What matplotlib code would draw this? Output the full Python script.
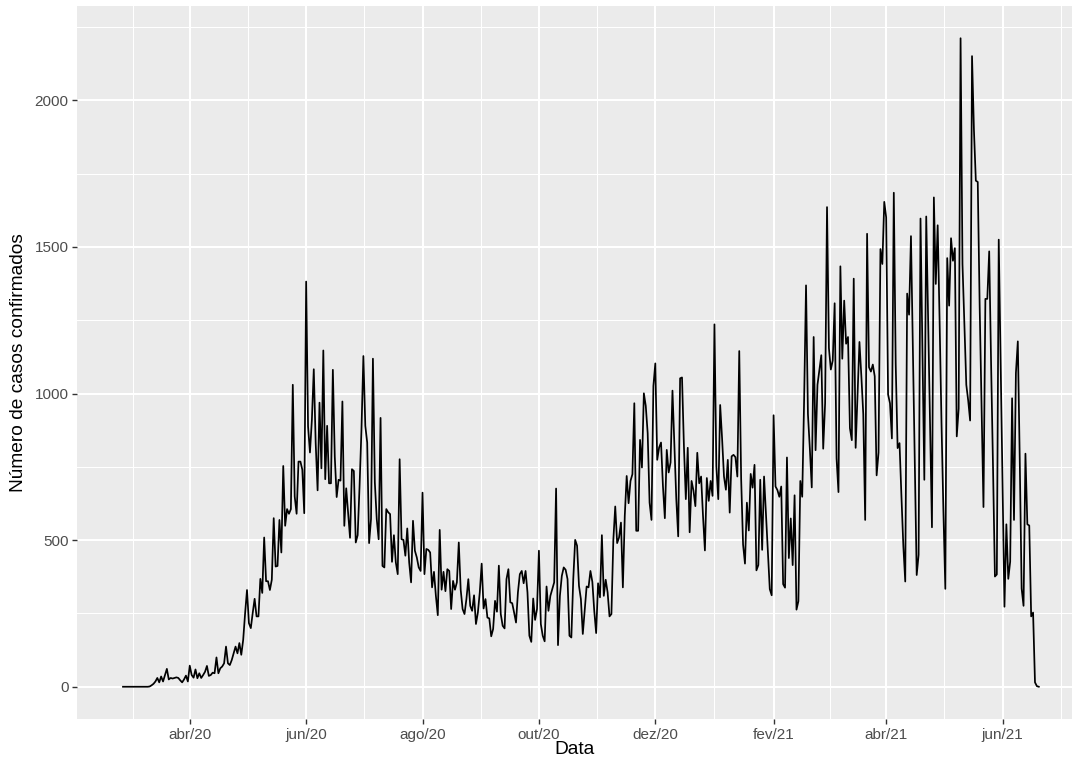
import matplotlib
matplotlib.use('Agg')

import matplotlib.pyplot as plt

import numpy as np

import pandas as pd

plt.rcParams['font.family'] = ['Liberation Sans', 'DejaVu Sans']

# daily confirmed cases, one list per month (first day: 2020-02-26)
start_date = '2020-02-26'

casos_fev20 = [0, 0, 0, 0]
casos_mar20 = [0, 0, 0, 0, 0, 0, 0, 0, 0, 0, 1, 5, 10, 18, 30, 15, 35, 18, 40, 61,
               25, 30, 28, 30, 32, 30, 22, 15, 25, 38, 18]
casos_abr20 = [72, 40, 31, 59, 29, 46, 30, 40, 51, 71, 37, 40, 48, 46, 100, 46, 63, 69,
               80, 137, 80, 74, 91, 114, 137, 114, 149, 109, 160, 250]
casos_mai20 = [330, 217, 200, 252, 300, 240, 240, 368, 320, 509, 360, 360, 330, 365, 575,
               410, 412, 569, 458, 753, 549, 606, 590, 606, 1030, 649, 590, 768, 768, 740, 592]
casos_jun20 = [1382, 888, 799, 910, 1083, 831, 670, 969, 745, 1147, 708, 890, 694, 694,
               1081, 785, 647, 706, 703, 973, 549, 677, 590, 508, 742, 736, 492, 517, 685, 878]
casos_jul20 = [1128, 890, 833, 490, 572, 1119, 697, 572, 503, 917, 412, 407, 606, 595, 589,
               426, 517, 424, 384, 776, 503, 501, 447, 540, 424, 356, 566, 464, 441, 407, 395]
casos_ago20 = [662, 384, 470, 467, 458, 339, 392, 310, 244, 535, 331, 392, 326, 401, 395,
               265, 361, 331, 356, 492, 331, 265, 248, 299, 367, 276, 259, 312, 214, 253, 322]
casos_set20 = [420, 267, 299, 236, 233, 172, 197, 293, 256, 413, 248, 208, 199, 367, 401,
               288, 285, 253, 219, 322, 384, 395, 353, 395, 322, 174, 153, 301, 228, 265]
casos_out20 = [464, 214, 174, 155, 342, 259, 310, 333, 356, 676, 142, 310, 378, 407, 399,
               367, 174, 168, 367, 501, 481, 344, 299, 180, 259, 342, 339, 395, 358, 259, 183]
casos_nov20 = [353, 305, 517, 310, 365, 322, 240, 248, 500, 615, 490, 509, 560, 339, 583,
               719, 626, 702, 725, 967, 532, 532, 842, 748, 1001, 958, 865, 628, 569, 1026]
casos_dez20 = [1103, 774, 816, 833, 685, 575, 808, 731, 765, 1010, 821, 640, 513, 1052, 1055,
               821, 640, 815, 527, 702, 669, 616, 798, 694, 717, 583, 465, 712, 634, 702, 651]
casos_jan21 = [1236, 752, 640, 961, 847, 717, 672, 774, 594, 786, 791, 783, 717, 1145, 708,
               485, 420, 628, 533, 726, 679, 757, 397, 415, 706, 467, 717, 591, 472, 333, 312]
casos_fev21 = [926, 683, 671, 648, 683, 350, 338, 782, 439, 574, 415, 653, 263, 292, 702,
               648, 979, 1369, 930, 812, 680, 1193, 807, 1030, 1080, 1131, 812, 967]
casos_mar21 = [1636, 1155, 1082, 1113, 1308, 779, 664, 1434, 1119, 1317, 1170, 1193, 882, 841,
               1392, 815, 993, 1176, 1059, 930, 569, 1545, 1090, 1075, 1099, 1059, 721, 799,
               1493, 1442, 1654]
casos_abr21 = [1601, 997, 967, 847, 1685, 1100, 814, 831, 650, 480, 359, 1341, 1269, 1537,
               1150, 760, 381, 450, 1597, 1150, 706, 1604, 1250, 900, 544, 1669, 1374, 1574,
               1250, 900]
casos_mai21 = [600, 334, 1462, 1300, 1530, 1453, 1496, 854, 949, 2212, 1442, 1239, 1030, 976,
               908, 2151, 1900, 1726, 1722, 1300, 950, 613, 1323, 1323, 1485, 1100, 750, 376,
               383, 1525, 1100]
casos_jun21 = [680, 273, 554, 368, 427, 984, 569, 1070, 1178, 780, 335, 276, 795, 554, 550,
               240, 253, 15, 2, 0]

tick_dates = ['2020-04-01', '2020-06-01', '2020-08-01', '2020-10-01',
              '2020-12-01', '2021-02-01', '2021-04-01', '2021-06-01']
tick_labels = ['abr/20', 'jun/20', 'ago/20', 'out/20', 'dez/20', 'fev/21', 'abr/21', 'jun/21']
y_ticks = [0, 500, 1000, 1500, 2000]
y_minor = [250, 750, 1250, 1750, 2250]

casos = (casos_fev20 + casos_mar20 + casos_abr20 + casos_mai20 + casos_jun20 + casos_jul20 +
         casos_ago20 + casos_set20 + casos_out20 + casos_nov20 + casos_dez20 + casos_jan21 +
         casos_fev21 + casos_mar21 + casos_abr21 + casos_mai21 + casos_jun21)
datas = pd.date_range(start_date, periods=len(casos), freq='D')

fig = plt.figure(figsize=(10.8, 7.62), dpi=100)
ax = fig.add_axes([77 / 1080, 1 - 719 / 762, 995 / 1080, 713 / 762])
ax.set_facecolor('#EBEBEB')

ax.plot(datas, casos, color='black', linewidth=1.25)

# ggplot-like limits
t0 = pd.Timestamp(start_date)
ax.set_xlim(t0 - pd.Timedelta(days=24.1), t0 + pd.Timedelta(days=497.4))
ax.set_ylim(-110, 2322)

major = pd.to_datetime(tick_dates)
edges = [pd.Timestamp('2020-02-01')] + list(major) + [pd.Timestamp('2021-08-01')]
minor = [edges[i] + (edges[i + 1] - edges[i]) / 2 for i in range(len(edges) - 1)]
ax.set_xticks(major)
ax.set_xticklabels(tick_labels)
ax.set_xticks(minor, minor=True)
ax.set_yticks(y_ticks)
ax.set_yticks(y_minor, minor=True)

ax.set_axisbelow(True)
ax.grid(which='major', color='white', linewidth=1.5)
ax.grid(which='minor', color='white', linewidth=0.75)
for s in ax.spines.values():
    s.set_visible(False)
ax.tick_params(which='major', length=3.4, width=1.0, color='#333333',
               labelsize=11, labelcolor='#4D4D4D', pad=2.75)
ax.tick_params(which='minor', length=0)

ax.set_xlabel('Data', fontsize=13.75)
ax.set_ylabel('Número de casos confirmados', fontsize=13.75)
ax.xaxis.set_label_coords(0.5, -0.031)
ax.yaxis.set_label_coords(-0.05, 0.5)

fig.savefig('out.png', dpi=100)
